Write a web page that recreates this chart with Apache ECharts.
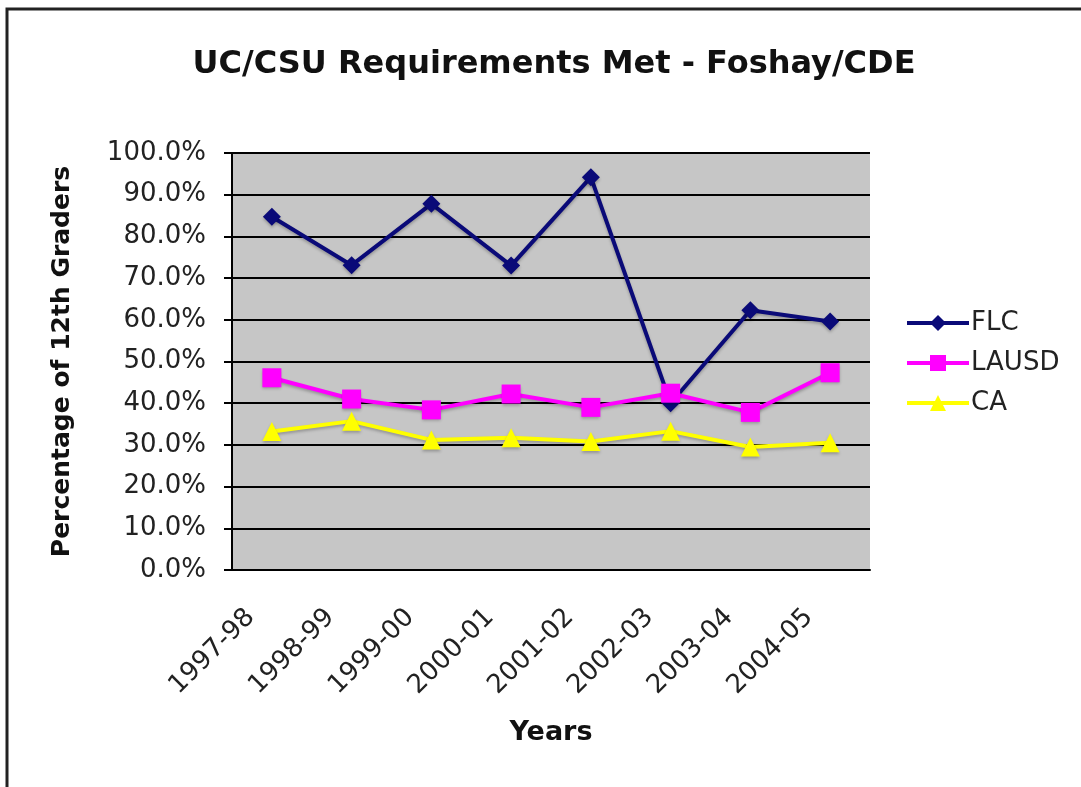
<!DOCTYPE html>
<html>
<head>
<meta charset="utf-8">
<style>
  html, body { margin: 0; padding: 0; background: #fff; }
  #main { width: 1081px; height: 787px; }
</style>
<script src="https://cdn.jsdelivr.net/npm/echarts@6/dist/echarts.min.js"></script>
</head>
<body>
<div id="main"></div>
<script>
var years = ['1997-98', '1998-99', '1999-00', '2000-01', '2001-02', '2002-03', '2003-04', '2004-05'];
var flc = [84.7, 73.1, 87.8, 73.0, 94.2, 40.0, 62.3, 59.6];
var lausd = [46.1, 41.0, 38.4, 42.2, 39.0, 42.4, 37.8, 47.3];
var ca = [33.2, 35.7, 31.2, 31.7, 30.8, 33.3, 29.5, 30.5];

var chart = echarts.init(document.getElementById('main'));
var font = 'DejaVu Sans';

// 线条样式，带一点阴影
function lineSeries(name, data, color, symbol, size) {
    return {
        name: name,
        type: 'line',
        data: data,
        symbol: symbol,
        symbolSize: size,
        lineStyle: {
            width: 4,
            color: color,
            shadowColor: 'rgba(0,0,0,0.25)',
            shadowBlur: 3,
            shadowOffsetY: 2
        },
        itemStyle: {
            color: color,
            shadowColor: 'rgba(0,0,0,0.25)',
            shadowBlur: 3,
            shadowOffsetY: 2
        },
        emphasis: { disabled: true },
        animation: false
    };
}

var option = {
    backgroundColor: '#fff',
    animation: false,
    title: {
        text: 'UC/CSU Requirements Met - Foshay/CDE',
        left: 549,
        top: 44,
        textAlign: 'center',
        textStyle: {
            fontFamily: font,
            fontWeight: 'bold',
            fontSize: 32,
            color: '#111'
        }
    },
    legend: {
        orient: 'vertical',
        left: 900,
        top: 305,
        itemWidth: 62,
        itemHeight: 20,
        itemGap: 14,
        lineStyle: { width: 4 },
        textStyle: {
            fontFamily: font,
            fontSize: 26,
            color: '#222',
            padding: [0, 0, 0, -3]
        },
        data: ['FLC', 'LAUSD', 'CA']
    },
    graphic: [{
        type: 'rect',
        shape: { x: 7, y: 9, width: 1200, height: 900 },
        style: { fill: null, stroke: '#222', lineWidth: 3 },
        silent: true
    }],
    grid: {
        left: 232,
        right: 211,
        top: 153,
        bottom: 217,
        show: true,
        backgroundColor: '#c6c6c6',
        borderWidth: 0
    },
    xAxis: {
        type: 'category',
        data: years,
        name: 'Years',
        nameLocation: 'middle',
        nameGap: 149,
        nameTextStyle: {
            fontFamily: font,
            fontWeight: 'bold',
            fontSize: 27,
            color: '#111'
        },
        axisLine: { lineStyle: { color: '#000', width: 2 } },
        axisTick: { length: 7, lineStyle: { color: '#000', width: 2 } },
        axisLabel: {
            rotate: 45,
            interval: 0,
            margin: 22,
            padding: [0, 30, 0, 0],
            fontFamily: font,
            fontSize: 26,
            color: '#222'
        }
    },
    yAxis: {
        type: 'value',
        min: 0,
        max: 100,
        interval: 10,
        name: 'Percentage of 12th Graders',
        nameLocation: 'middle',
        nameGap: 157,
        nameTextStyle: {
            fontFamily: font,
            fontWeight: 'bold',
            fontSize: 25,
            color: '#111'
        },
        axisLine: { show: true, lineStyle: { color: '#000', width: 2 } },
        axisTick: { show: true, length: 8, lineStyle: { color: '#000', width: 2 } },
        axisLabel: {
            margin: 26,
            fontFamily: font,
            fontSize: 26,
            color: '#222',
            formatter: function (v) { return v.toFixed(1) + '%'; }
        },
        splitLine: { lineStyle: { color: '#000', width: 2 } }
    },
    series: [
        lineSeries('FLC', flc, '#0a0a78', 'diamond', 18),
        lineSeries('LAUSD', lausd, '#ff00ff', 'rect', 19),
        lineSeries('CA', ca, '#ffff00', 'triangle', 19)
    ]
};

chart.setOption(option);
</script>
</body>
</html>
